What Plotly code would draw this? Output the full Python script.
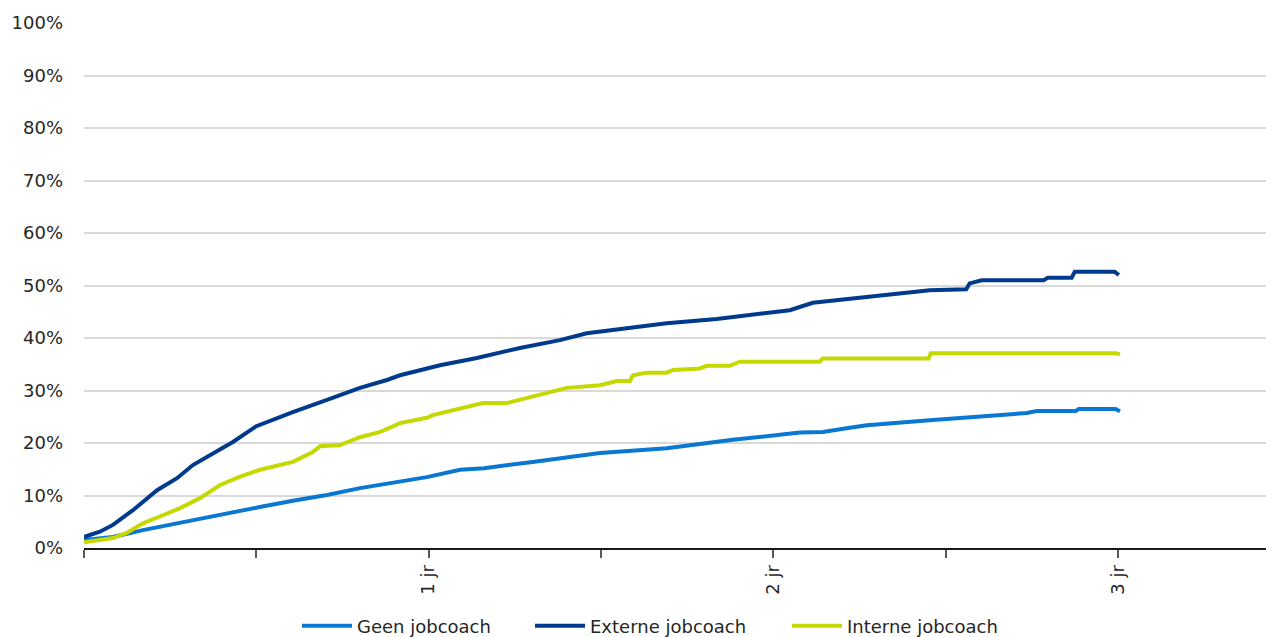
import plotly.graph_objects as go

# Time in years (x) and cumulative share in percent (y)
geen_x = [0.000, 0.084, 0.171, 0.316, 0.415, 0.510, 0.606, 0.705, 0.801, 0.896, 0.995, 1.091,
          1.161, 1.302, 1.497, 1.691, 1.883, 2.077, 2.144, 2.222, 2.272, 2.463, 2.608, 2.736,
          2.765, 2.878, 2.887, 2.994, 3.006]
geen_y = [1.5, 2.1, 3.4, 5.3, 6.7, 7.8, 9.0, 10.1, 11.4, 12.4, 13.5, 14.9,
          15.2, 16.4, 18.1, 19.0, 20.6, 22.0, 22.1, 22.9, 23.4, 24.4, 25.1, 25.7,
          26.1, 26.1, 26.5, 26.5, 26.0]

externe_x = [0.000, 0.046, 0.084, 0.142, 0.212, 0.270, 0.316, 0.366, 0.432, 0.500, 0.606, 0.705,
             0.801, 0.879, 0.917, 1.033, 1.140, 1.265, 1.381, 1.459, 1.575, 1.691, 1.836, 1.961,
             2.048, 2.115, 2.222, 2.330, 2.454, 2.560, 2.570, 2.605, 2.785, 2.797, 2.866, 2.875,
             2.991, 3.003]
externe_y = [2.1, 3.1, 4.4, 7.2, 11.0, 13.3, 15.8, 17.7, 20.2, 23.2, 25.9, 28.2,
             30.5, 32.0, 32.9, 34.8, 36.2, 38.1, 39.6, 40.9, 41.9, 42.8, 43.6, 44.5,
             45.3, 46.7, 47.4, 48.2, 49.1, 49.3, 50.4, 51.0, 51.0, 51.5, 51.5, 52.6,
             52.6, 52.0]

interne_x = [0.000, 0.084, 0.125, 0.171, 0.220, 0.279, 0.337, 0.395, 0.453, 0.511, 0.606, 0.664,
             0.685, 0.743, 0.801, 0.859, 0.917, 0.995, 1.012, 1.091, 1.111, 1.158, 1.227, 1.274,
             1.332, 1.401, 1.497, 1.546, 1.584, 1.593, 1.633, 1.691, 1.709, 1.787, 1.807, 1.874,
             1.903, 2.135, 2.144, 2.451, 2.457, 2.994, 3.006]
interne_y = [1.1, 1.9, 2.9, 4.7, 6.0, 7.6, 9.5, 12.0, 13.6, 14.9, 16.4, 18.3,
             19.4, 19.6, 21.1, 22.1, 23.8, 24.8, 25.3, 26.6, 27.0, 27.6, 27.6, 28.4,
             29.5, 30.5, 31.0, 31.8, 31.8, 32.9, 33.4, 33.4, 33.9, 34.2, 34.7, 34.7,
             35.5, 35.5, 36.1, 36.1, 37.1, 37.1, 36.9]

x_tickvals = [0, 0.5, 1, 1.5, 2, 2.5, 3]
x_ticktext = ["", "", "1 jr", "", "2 jr", "", "3 jr"]
y_tickvals = [0, 10, 20, 30, 40, 50, 60, 70, 80, 90, 100]
y_ticktext = [f"{v}%" for v in y_tickvals]

FONT = "Verdana, DejaVu Sans, sans-serif"
FS = 18

fig = go.Figure()
fig.add_trace(go.Scatter(x=geen_x, y=geen_y, mode="lines", name="Geen jobcoach",
                         line=dict(color="#0A78D2", width=4), legend="legend"))
fig.add_trace(go.Scatter(x=externe_x, y=externe_y, mode="lines", name="Externe jobcoach",
                         line=dict(color="#003A8C", width=4), legend="legend2"))
fig.add_trace(go.Scatter(x=interne_x, y=interne_y, mode="lines", name="Interne jobcoach",
                         line=dict(color="#C5D800", width=4), legend="legend3"))

def leg(xpx):
    return dict(orientation="h", xref="container", yref="container",
                x=xpx / 1266, xanchor="left", y=1 - 626 / 637, yanchor="middle",
                font=dict(size=FS, color="#262626"), itemwidth=50,
                bgcolor="rgba(0,0,0,0)")

fig.update_layout(
    width=1266, height=637,
    margin=dict(l=84, r=0, t=23, b=89),
    plot_bgcolor="white", paper_bgcolor="white",
    font=dict(family=FONT, size=FS, color="#262626"),
    showlegend=True,
    legend=leg(297), legend2=leg(530), legend3=leg(787),
    xaxis=dict(range=[0, 3.43], tickmode="array", tickvals=x_tickvals, ticktext=x_ticktext,
               tickangle=-90, ticks="outside", ticklen=8, tickwidth=2, tickcolor="#595959",
               showline=True, linecolor="#1a1a1a", linewidth=2, showgrid=False, zeroline=False,
               tickfont=dict(size=FS)),
    yaxis=dict(range=[0, 100], tickmode="array", tickvals=y_tickvals, ticktext=y_ticktext,
               showgrid=True, gridcolor="#D9D9D9", gridwidth=1.5, zeroline=False,
               showline=False, ticks="", ticklabelstandoff=20, tickfont=dict(size=FS)),
)

fig.write_html("out.html")
